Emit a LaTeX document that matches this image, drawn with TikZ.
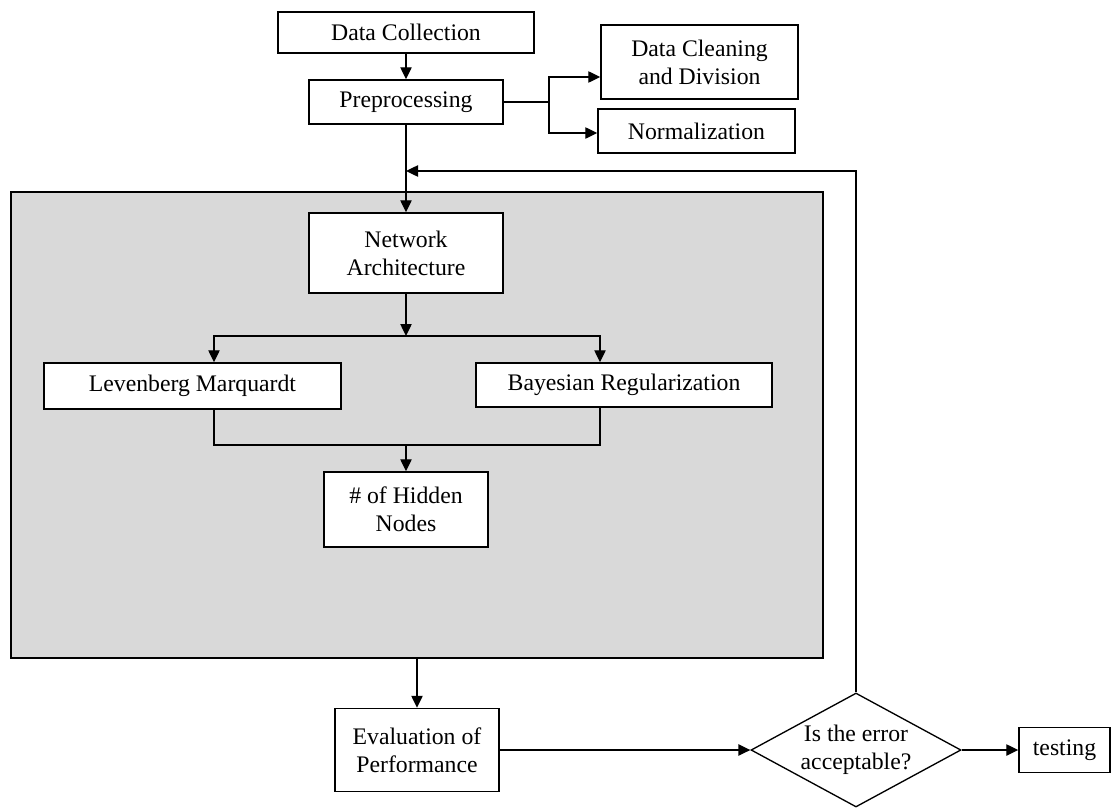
\documentclass[tikz,border=0pt]{standalone}
\usepackage{fontspec}
\setmainfont{Liberation Serif}
\usetikzlibrary{arrows.meta,shapes.geometric}
\definecolor{panelgray}{HTML}{D9D9D9}
\begin{document}
\begin{tikzpicture}[
  x=0.75pt, y=-0.75pt,
  every node/.style={font=\fontsize{17.8}{21}\selectfont},
  sz/.style 2 args={minimum width=0.75pt*#1, minimum height=0.75pt*#2},
  box/.style={draw, fill=white, line width=1.1pt, inner sep=0pt, align=center},
  panelbox/.style={draw, fill=panelgray, line width=1.1pt, inner sep=0pt},
  decision/.style={draw, fill=white, diamond, aspect=1.84, line width=1pt, inner sep=0pt, align=center},
  link/.style={line width=1pt},
  arr/.style={line width=1pt, -{Triangle[length=9pt,width=8.5pt]}}
]
\useasboundingbox (0,0) rectangle (1120,807);

% grey training block
\node[panelbox, sz={812}{466}] (panel) at (417,425) {};

% boxes
\node[box, sz={256}{41}] (dc)    at (406,32.5) {Data Collection};
\node[box, sz={194}{44}] (pre)   at (406,102)  {Preprocessing};
\node[box, sz={197}{74}] (clean) at (699.5,62) {Data Cleaning\\and Division};
\node[box, sz={197}{44}] (norm)  at (696.5,131) {Normalization};
\node[box, sz={194}{80}] (na)    at (406,253)  {Network\\Architecture};
\node[box, sz={297}{46}] (lm)    at (192.5,386) {Levenberg Marquardt};
\node[box, sz={296}{44}] (br)    at (624,385)  {Bayesian Regularization};
\node[box, sz={164}{75}] (hn)    at (406,509.5) {\# of Hidden\\Nodes};
\node[box, sz={164}{83}] (ev)    at (417,750)  {Evaluation of\\Performance};
\node[decision, sz={210}{114}] (dia) at (856,750) {Is the error\\acceptable?};
\node[box, sz={91}{45}]  (test)  at (1064.5,750) {testing};

% junction points
\coordinate (pfork) at (549,102);
\coordinate (split) at (406,336);
\coordinate (merge) at (406,445);
\coordinate (loop)  at (406,171);

% connectors
\draw[arr] (dc) -- (pre);
\draw[link] (pre.east) -- (pfork);
\draw[arr] (pfork) |- (clean.west |- 0,77);
\draw[arr] (pfork) |- (norm.west |- 0,133);
\draw[arr] (pre.south) -- (na.north);
\draw[arr] (dia.north) |- (loop);

\draw[arr] (na.south) -- (split);
\draw[arr] (split) -| (lm.north -| 214,0);
\draw[arr] (split) -| (br.north -| 600,0);
\draw[link] (lm.south -| 214,0) |- (merge);
\draw[link] (br.south -| 600,0) |- (merge);
\draw[arr] (merge) -- (hn.north);

\draw[arr] (panel.south) -- (ev.north);
\draw[arr] (ev.east) -- (dia.west);
\draw[arr] (dia.east) -- (test.west);
\end{tikzpicture}
\end{document}
